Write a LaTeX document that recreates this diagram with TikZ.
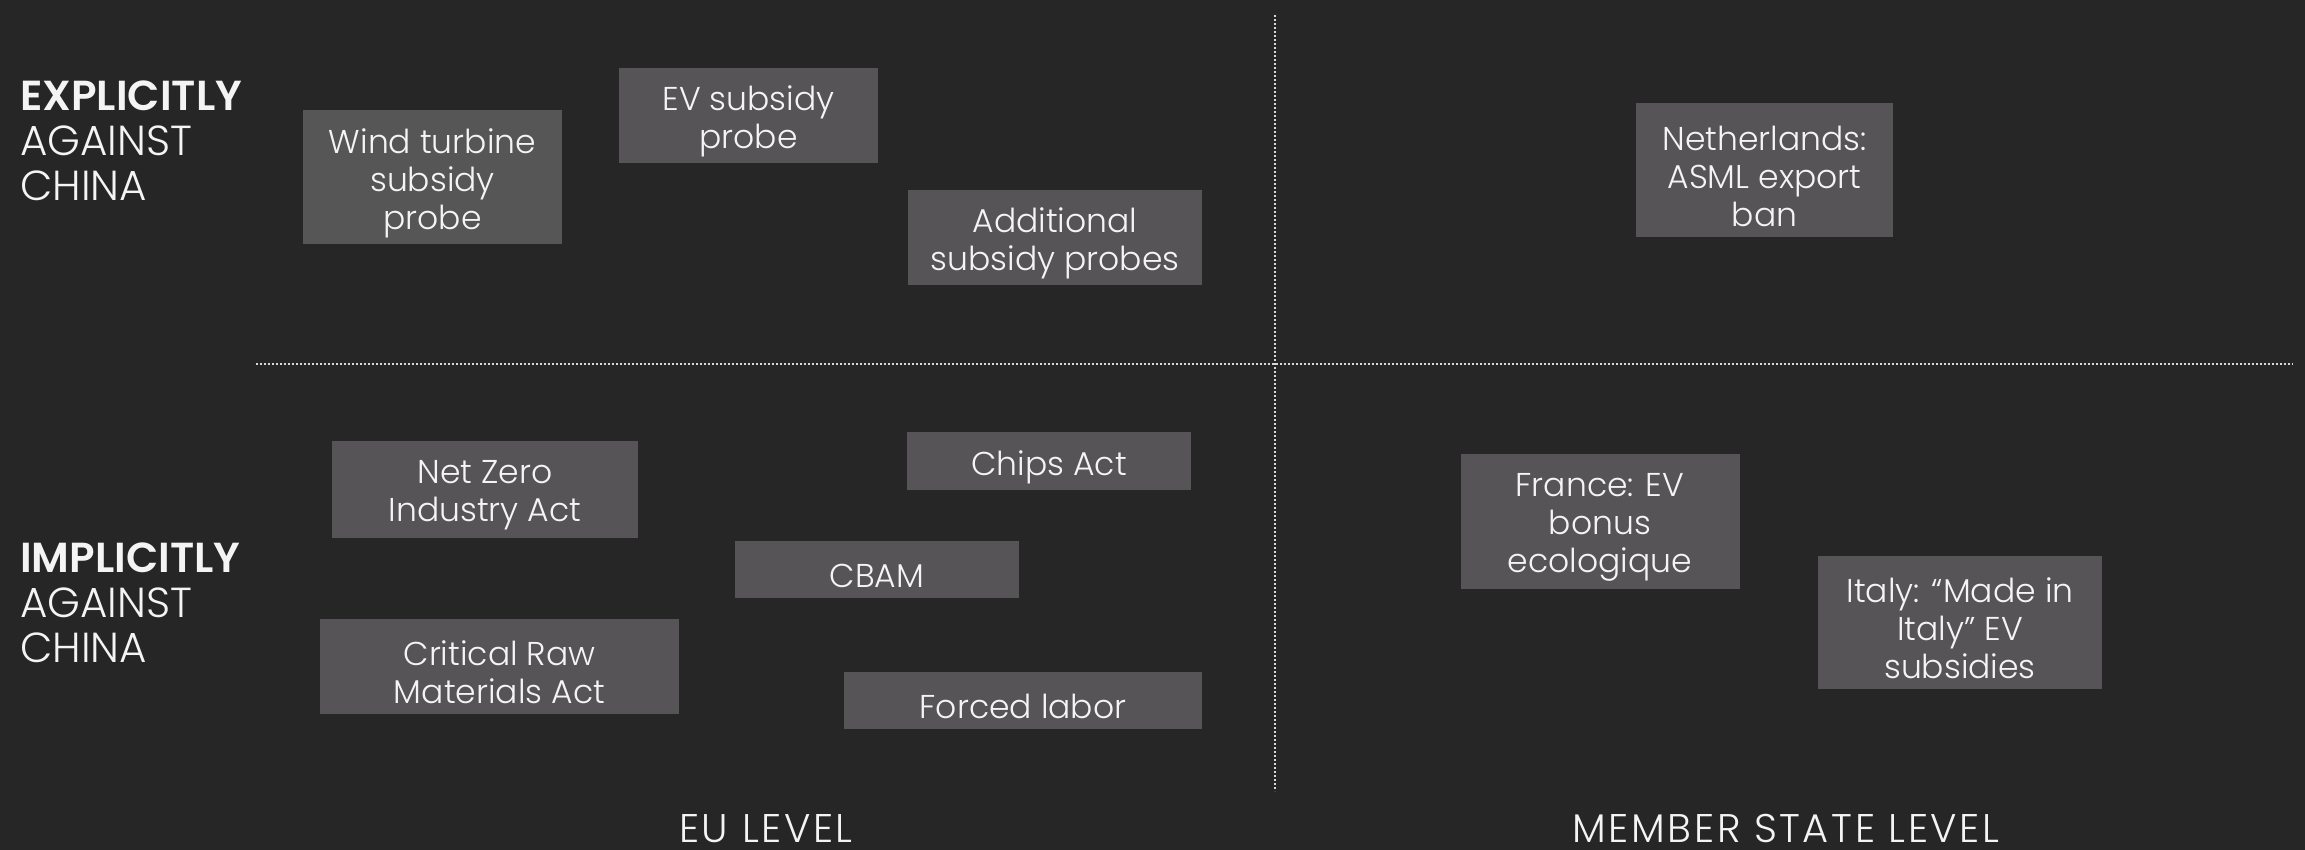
\documentclass[tikz,border=0pt]{standalone}
\usepackage{fontspec}
\setmainfont{Poppins Light}[BoldFont={Poppins SemiBold}]
\newfontfamily\axisfont{Poppins Light}[LetterSpace=6.5]
\definecolor{bgdark}{HTML}{262626}
\definecolor{boxgrey}{HTML}{575457}
\definecolor{boxgreyb}{HTML}{565656}
\definecolor{dotline}{HTML}{D8D8D8}
\definecolor{txt}{HTML}{F4F4F4}
\tikzset{
  policybox/.style={fill=boxgrey, inner sep=0pt},
  policytext/.style={text=txt, align=center, inner sep=0pt,
    font=\fontsize{33}{38}\selectfont},
  sidelabel/.style={text=txt, align=left, inner sep=0pt, anchor=west,
    font=\fontsize{42}{45}\selectfont},
  axislabel/.style={text=txt, inner sep=0pt, anchor=base,
    font=\axisfont\fontsize{40}{44}\selectfont},
  divider/.style={dotline, line width=2pt, dash pattern=on 2pt off 2pt}
}
% a filled box plus its centred caption:
% #1 extra box options, #2 name, #3 centre, #4 width, #5 height, #6 text
\newcommand\policynode[6][]{%
  \node[policybox, minimum width=#4pt, minimum height=#5pt, #1] (#2) at #3 {};
  \node[policytext] (#2-text) at ([yshift=-6pt]#2.center) {#6};
}
\begin{document}
\begin{tikzpicture}[x=1pt, y=-1pt]
  \fill[bgdark] (0,0) rectangle (2305,850);
  \useasboundingbox (0,0) rectangle (2305,850);

  % quadrant dividers
  \coordinate (vtop) at (1275,15);
  \coordinate (vbot) at (1275,791);
  \coordinate (hleft) at (256,364);
  \coordinate (hright) at (2293,364);
  \draw[divider] (vtop) -- (vbot);
  \draw[divider] (hleft) -- (hright);

  % row labels
  \node[sidelabel] (explicit) at (20,141) {\textbf{EXPLICITLY}\\AGAINST\\CHINA};
  \node[sidelabel] (implicit) at (20,603) {\textbf{IMPLICITLY}\\AGAINST\\CHINA};

  % column labels (set on their baseline)
  \node[axislabel] (eu) at (766,842) {EU LEVEL};
  \node[axislabel] (ms) at (1786,842) {MEMBER STATE LEVEL};

  % EU level, explicit
  \policynode[fill=boxgreyb]{wind}{(432.5,177)}{259}{134}{Wind turbine\\subsidy\\probe}
  \policynode{evprobe}{(748.5,115.5)}{259}{95}{EV subsidy\\probe}
  \policynode{addprobe}{(1055,237.5)}{294}{95}{Additional\\subsidy probes}

  % member state level, explicit
  \policynode{asml}{(1764.5,170)}{257}{134}{Netherlands:\\ASML export\\ban}

  % EU level, implicit
  \policynode{nzia}{(485,489.5)}{306}{97}{Net Zero\\Industry Act}
  \policynode{chips}{(1049,461)}{284}{58}{Chips Act}
  \policynode{cbam}{(877,569.5)}{284}{57}{CBAM}
  \policynode{crma}{(499.5,666.5)}{359}{95}{Critical Raw\\Materials Act}
  \policynode{forced}{(1023,700.5)}{358}{57}{Forced labor}

  % member state level, implicit
  \policynode{france}{(1600,521.5)}{279}{135}{France: EV\\bonus\\ecologique}
  \policynode{italy}{(1960,622.5)}{284}{133}{Italy: “Made in\\Italy” EV\\subsidies}
\end{tikzpicture}
\end{document}
